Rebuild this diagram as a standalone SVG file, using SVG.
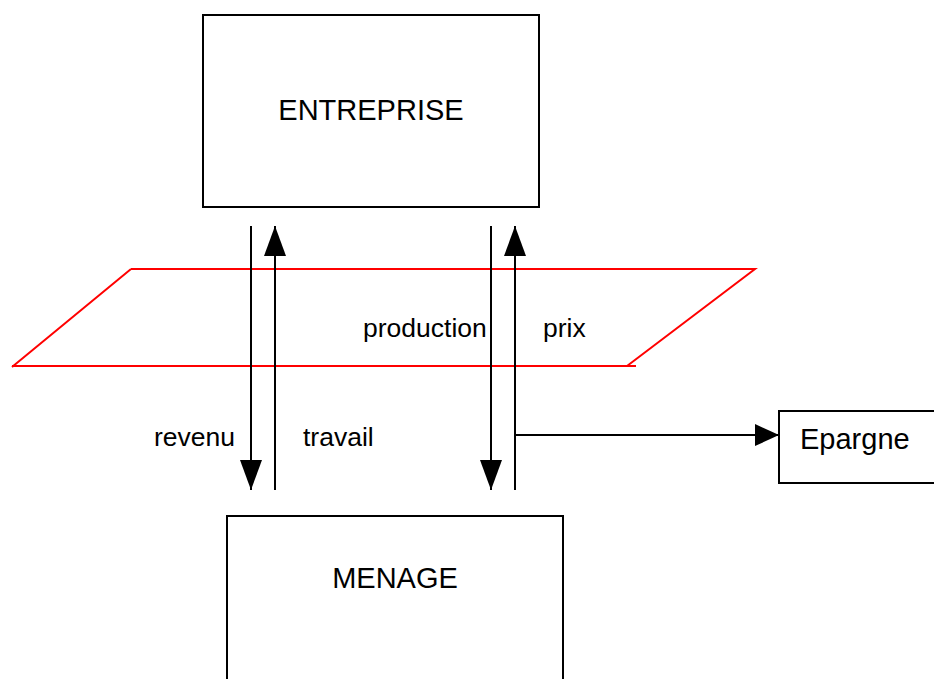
<svg xmlns="http://www.w3.org/2000/svg" width="934" height="679" viewBox="0 0 934 679">
<style>
.box{fill:#fff;stroke:#000;stroke-width:2}
.lbl{font-family:"Liberation Sans",Arial,sans-serif;font-size:26.5px;fill:#000}
.big{font-family:"Liberation Sans",Arial,sans-serif;font-size:29px;fill:#000}
.ln{stroke:#000;stroke-width:2;fill:none}
.red{stroke:#f00;stroke-width:2;fill:none}
</style>
<defs>
<marker id="ahb" viewBox="0 0 10 10" refX="10" refY="5" markerWidth="30" markerHeight="22" markerUnits="userSpaceOnUse" orient="auto" preserveAspectRatio="none">
<path d="M0,0 L10,5 L0,10 Z" fill="#000"/>
</marker>
<marker id="ahs" viewBox="0 0 10 10" refX="10" refY="5" markerWidth="24" markerHeight="22" markerUnits="userSpaceOnUse" orient="auto" preserveAspectRatio="none">
<path d="M0,0 L10,5 L0,10 Z" fill="#000"/>
</marker>
</defs>
<g id="entreprise">
<rect class="box" x="203" y="15" width="336" height="192"/>
<text class="big" x="371" y="120" text-anchor="middle">ENTREPRISE</text>
</g>
<g id="menage">
<rect class="box" x="227" y="516" width="336" height="180"/>
<text class="big" x="395" y="588" text-anchor="middle">MENAGE</text>
</g>
<g id="epargne">
<rect class="box" x="779" y="411" width="170" height="72"/>
<text class="big" x="800" y="449">Epargne</text>
</g>
<g id="marche">
<path class="red" d="M131,269 L755,269 L627,366 M12,367 L131,269 M12,366 L636,366"/>
</g>
<g id="connectors">
<line class="ln" x1="251" y1="226" x2="251" y2="490" marker-end="url(#ahb)"/>
<line class="ln" x1="275" y1="490" x2="275" y2="226" marker-end="url(#ahb)"/>
<line class="ln" x1="491" y1="226" x2="491" y2="490" marker-end="url(#ahb)"/>
<line class="ln" x1="515" y1="490" x2="515" y2="226" marker-end="url(#ahb)"/>
<line class="ln" x1="515" y1="435" x2="779" y2="435" marker-end="url(#ahs)"/>
</g>
<g id="labels">
<text class="lbl" x="154" y="446">revenu</text>
<text class="lbl" x="303" y="446">travail</text>
<text class="lbl" x="363" y="337">production</text>
<text class="lbl" x="543" y="337">prix</text>
</g>
</svg>
